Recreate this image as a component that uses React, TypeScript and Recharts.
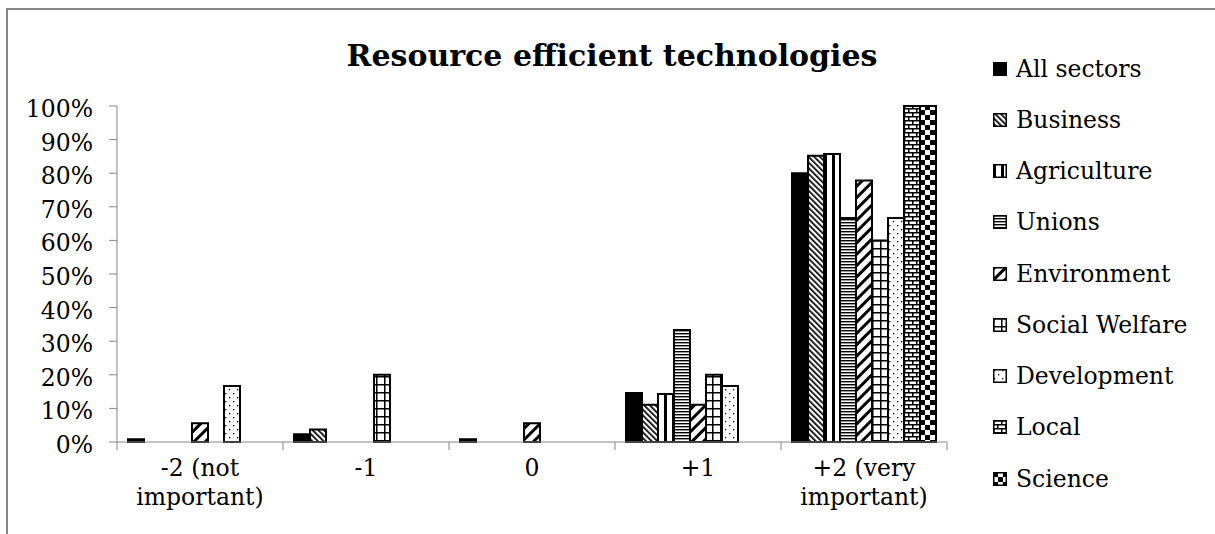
import React from "react";
import { BarChart, Bar, XAxis, YAxis } from "recharts";

const FONT = '"DejaVu Serif", serif';
const GRAY = "#868686";

const categories = ["-2 (not important)", "-1", "0", "+1", "+2 (very important)"];
const tickLabels = [["-2 (not", "important)"], ["-1"], ["0"], ["+1"], ["+2 (very", "important)"]];
const yTicks = [0, 10, 20, 30, 40, 50, 60, 70, 80, 90, 100];

const allSectors = [0.8, 2.3, 0.8, 14.6, 80.0];
const business = [0, 3.7, 0, 11.1, 85.2];
const agriculture = [0, 0, 0, 14.3, 85.7];
const unions = [0, 0, 0, 33.3, 66.7];
const environment = [5.6, 0, 5.6, 11.1, 77.8];
const socialWelfare = [0, 20, 0, 20, 60];
const development = [16.7, 0, 0, 16.7, 66.7];
const local = [0, 0, 0, 0, 100];
const science = [0, 0, 0, 0, 100];

const series = [
  { key: "allSectors", name: "All sectors", values: allSectors, fill: "#000" },
  { key: "business", name: "Business", values: business, fill: "url(#p-business)" },
  { key: "agriculture", name: "Agriculture", values: agriculture, fill: "url(#p-agriculture)" },
  { key: "unions", name: "Unions", values: unions, fill: "url(#p-unions)" },
  { key: "environment", name: "Environment", values: environment, fill: "url(#p-environment)" },
  { key: "socialWelfare", name: "Social Welfare", values: socialWelfare, fill: "url(#p-welfare)" },
  { key: "development", name: "Development", values: development, fill: "url(#p-development)" },
  { key: "local", name: "Local", values: local, fill: "url(#p-local)" },
  { key: "science", name: "Science", values: science, fill: "url(#p-science)" },
];

const data = categories.map((c, i) => {
  const row: any = { category: c };
  series.forEach((s) => (row[s.key] = s.values[i]));
  return row;
});

// plot box: x 117..947, y 106..442
const X_H = 30;
const MARGIN = { top: 106, right: 268, bottom: 92 - X_H, left: 0 };
const Y_W = 117;
const PLOT_W = 1215 - MARGIN.right - Y_W;
const BAND = PLOT_W / categories.length;

function Patterns() {
  return (
    <svg width={0} height={0} style={{ position: "absolute" }}>
      <defs>
        <pattern id="p-business" width={4} height={4} patternUnits="userSpaceOnUse" patternTransform="rotate(-45)">
          <rect width={4} height={4} fill="#fff" />
          <rect width={1.7} height={4} fill="#000" />
        </pattern>
        <pattern id="p-agriculture" width={8} height={8} patternUnits="userSpaceOnUse">
          <rect width={8} height={8} fill="#fff" />
          <rect x={0} width={3} height={8} fill="#000" />
        </pattern>
        <pattern id="p-unions" width={3} height={3} patternUnits="userSpaceOnUse">
          <rect width={3} height={3} fill="#fff" />
          <rect width={3} height={1.4} fill="#000" />
        </pattern>
        <pattern id="p-environment" width={8} height={8} patternUnits="userSpaceOnUse" patternTransform="rotate(45)">
          <rect width={8} height={8} fill="#fff" />
          <rect width={3} height={8} fill="#000" />
        </pattern>
        <pattern id="p-welfare" width={8} height={8} patternUnits="userSpaceOnUse">
          <rect width={8} height={8} fill="#fff" />
          <rect width={8} height={1.5} fill="#000" />
          <rect width={1.5} height={8} fill="#000" />
        </pattern>
        <pattern id="p-development" width={8} height={8} patternUnits="userSpaceOnUse">
          <rect width={8} height={8} fill="#fff" />
          <rect x={1} y={1} width={1.3} height={1.3} fill="#000" />
          <rect x={5} y={5} width={1.3} height={1.3} fill="#000" />
        </pattern>
        <pattern id="p-local" width={8} height={8} patternUnits="userSpaceOnUse">
          <rect width={8} height={8} fill="#fff" />
          <rect y={0} width={8} height={1.5} fill="#000" />
          <rect y={4} width={8} height={1.5} fill="#000" />
          <rect x={0} y={0} width={1.5} height={4} fill="#000" />
          <rect x={4} y={4} width={1.5} height={4} fill="#000" />
        </pattern>
        <pattern id="p-science" width={10} height={10} patternUnits="userSpaceOnUse">
          <rect width={10} height={10} fill="#fff" />
          <rect x={0} y={0} width={5} height={5} fill="#000" />
          <rect x={5} y={5} width={5} height={5} fill="#000" />
        </pattern>
      </defs>
    </svg>
  );
}

function XTick(props: any) {
  const { x, y, index } = props;
  const lines = tickLabels[index] || [];
  const half = BAND / 2;
  return (
    <g>
      <line x1={x - half} y1={y} x2={x - half} y2={y + 8} stroke={GRAY} />
      {index === categories.length - 1 && (
        <line x1={x + half} y1={y} x2={x + half} y2={y + 8} stroke={GRAY} />
      )}
      <text x={x} y={y} textAnchor="middle" fontSize={23.5} fontFamily={FONT} fill="#000">
        {lines.map((l, i) => (
          <tspan key={i} x={x} dy={i === 0 ? 34 : 29}>
            {l}
          </tspan>
        ))}
      </text>
    </g>
  );
}

function YTick(props: any) {
  const { x, y, payload } = props;
  return (
    <text x={x} y={y} dy={11} textAnchor="end" fontSize={23.5} fontFamily={FONT} fill="#000">
      {payload.value + "%"}
    </text>
  );
}

function LegendBox() {
  return (
    <div style={{ position: "absolute", left: 993, top: 43, fontFamily: FONT, fontSize: 23.5 }}>
      {series.map((s) => (
        <div key={s.key} style={{ display: "flex", alignItems: "center", height: 51.25 }}>
          <svg width={14} height={14} style={{ marginRight: 9 }}>
            <rect x={0.75} y={0.75} width={12.5} height={12.5} fill={s.fill} stroke="#000" strokeWidth={1.5} />
          </svg>
          <span style={{ color: "#000", whiteSpace: "nowrap" }}>{s.name}</span>
        </div>
      ))}
    </div>
  );
}

export default function App() {
  return (
    <div style={{ position: "fixed", left: 0, top: 0, width: 1215, height: 534, overflow: "hidden", background: "#fff" }}>
      <Patterns />
      <div
        style={{
          position: "absolute",
          left: 6,
          top: 8,
          width: 1260,
          height: 600,
          border: `2px solid ${GRAY}`,
          boxSizing: "border-box",
        }}
      />
      <div
        style={{
          position: "absolute",
          left: 0,
          width: 1224,
          top: 38,
          textAlign: "center",
          fontFamily: FONT,
          fontWeight: "bold",
          fontSize: 30,
          lineHeight: "36px",
        }}
      >
        Resource efficient technologies
      </div>
      <div style={{ position: "absolute", left: 0, top: 0 }}>
        <BarChart width={1215} height={534} data={data} margin={MARGIN} barCategoryGap={11} barGap={0}>
          <XAxis
            dataKey="category"
            height={X_H}
            axisLine={{ stroke: GRAY }}
            tickLine={false}
            tickSize={0}
            tickMargin={0}
            interval={0}
            tick={<XTick />}
          />
          <YAxis
            width={Y_W}
            domain={[0, 100]}
            ticks={yTicks}
            interval={0}
            axisLine={{ stroke: GRAY }}
            tickLine={{ stroke: GRAY }}
            tickSize={8}
            tickMargin={16}
            tick={<YTick />}
          />
          {series.map((s) => (
            <Bar
              key={s.key}
              dataKey={s.key}
              name={s.name}
              fill={s.fill}
              stroke="#000"
              strokeWidth={2}
              isAnimationActive={false}
            />
          ))}
        </BarChart>
      </div>
      <LegendBox />
    </div>
  );
}
